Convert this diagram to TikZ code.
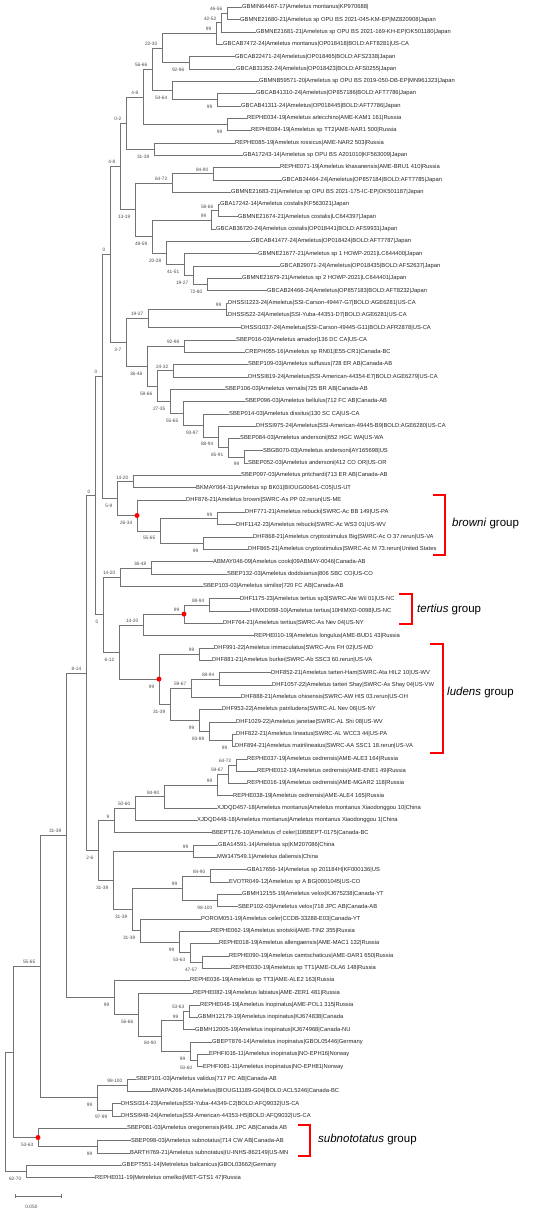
\documentclass[tikz,border=0pt]{standalone}
\usepackage{fontspec}
\setmainfont{Liberation Sans}
\usetikzlibrary{calc}

\tikzset{
  branch/.style={line width=0.6pt, draw=black!55},
  leaf/.style={anchor=west, inner sep=0.5pt, font=\fontsize{5.8}{6}\selectfont, text=black!85},
  bsa/.style={anchor=base east, inner sep=0pt, xshift=-4.5pt, yshift=2.5pt, font=\fontsize{4.8}{5}\selectfont, text=black!70},
  bsb/.style={anchor=base east, inner sep=0pt, xshift=-4.5pt, yshift=-9pt, font=\fontsize{4.8}{5}\selectfont, text=black!70},
  bracket/.style={line width=1.6pt, draw=red},
  grp/.style={anchor=west, inner sep=0pt, font=\fontsize{11.5}{12}\selectfont, text=black},
  reddot/.style={fill=red, draw=none}
}

\begin{document}
\begin{tikzpicture}[x=1pt, y=-1pt]
      \useasboundingbox (0,0) rectangle (550,1215);

      % leaves
      \node[leaf] (l1) at (241.5,7.3) {GBMIN64467-17|Ameletus montanus|KP970688|};
      \node[leaf] (l2) at (239.5,19.6) {GBMNE21680-21|Ameletus sp OPU BS 2021-045-KM-EP|MZ820908|Japan};
      \node[leaf] (l3) at (255.5,31.9) {GBMNE21681-21|Ameletus sp OPU BS 2021-169-KH-EP|OK501180|Japan};
      \node[leaf] (l4) at (222.5,44.3) {GBCAB7472-24|Ameletus montanus|OP018418|BOLD:AFT8281|US-CA};
      \node[leaf] (l5) at (234.5,56.6) {GBCAB22471-24|Ameletus|OP018465|BOLD:AFS2338|Japan};
      \node[leaf] (l6) at (235.5,68.9) {GBCAB31352-24|Ameletus|OP018423|BOLD:AFS0255|Japan};
      \node[leaf] (l7) at (258.5,81.2) {GBMNB59571-20|Ameletus sp OPU BS 2019-050-DB-EP|MN961323|Japan};
      \node[leaf] (l8) at (255.5,93.5) {GBCAB41310-24|Ameletus|OP857186|BOLD:AFT7786|Japan};
      \node[leaf] (l9) at (240.5,105.9) {GBCAB41311-24|Ameletus|OP018445|BOLD:AFT7786|Japan};
      \node[leaf] (l10) at (246.5,118.2) {REPHE034-19|Ameletus arlecchino|AME-KAM1 161|Russia};
      \node[leaf] (l11) at (250.5,130.5) {REPHE084-19|Ameletus sp TT2|AME-NAR1 500|Russia};
      \node[leaf] (l12) at (234.5,142.8) {REPHE085-19|Ameletus rossicus|AME-NAR2 503|Russia};
      \node[leaf] (l13) at (242.5,155.1) {GBA17243-14|Ameletus sp OPU BS A201010|KF563009|Japan};
      \node[leaf] (l14) at (279.5,167.5) {REPHE071-19|Ameletus khasanensis|AME-BRU1 410|Russia};
      \node[leaf] (l15) at (281.5,179.8) {GBCAB24464-24|Ameletus|OP857184|BOLD:AFT7785|Japan};
      \node[leaf] (l16) at (230.5,192.1) {GBMNE21683-21|Ameletus sp OPU BS 2021-175-IC-EP|OK501187|Japan};
      \node[leaf] (l17) at (219.5,204.4) {GBA17242-14|Ameletus costalis|KF563021|Japan};
      \node[leaf] (l18) at (237.5,216.7) {GBMNE21674-21|Ameletus costalis|LC644397|Japan};
      \node[leaf] (l19) at (215.5,229.0) {GBCAB36720-24|Ameletus costalis|OP018441|BOLD:AFS9931|Japan};
      \node[leaf] (l20) at (250.5,241.4) {GBCAB41477-24|Ameletus|OP018424|BOLD:AFT7787|Japan};
      \node[leaf] (l21) at (257.5,253.7) {GBMNE21677-21|Ameletus sp 1 HOWP-2021|LC644400|Japan};
      \node[leaf] (l22) at (279.5,266.0) {GBCAB29071-24|Ameletus|OP018435|BOLD:AFS2637|Japan};
      \node[leaf] (l23) at (241.5,278.3) {GBMNE21679-21|Ameletus sp 2 HOWP-2021|LC644401|Japan};
      \node[leaf] (l24) at (266.5,290.6) {GBCAB24466-24|Ameletus|OP857183|BOLD:AFT8232|Japan};
      \node[leaf] (l25) at (227.5,302.9) {DHSSI1223-24|Ameletus|SSI-Carson-49447-G7|BOLD:AGE6281|US-CA};
      \node[leaf] (l26) at (227.5,315.3) {DHSSI522-24|Ameletus|SSI-Yuba-44351-D7|BOLD:AGE6281|US-CA};
      \node[leaf] (l27) at (240.5,327.6) {DHSSI1037-24|Ameletus|SSI-Carson-49445-G11|BOLD:AFR2878|US-CA};
      \node[leaf] (l28) at (235.5,339.9) {SBEP016-03|Ameletus amador|136 DC CA|US-CA};
      \node[leaf] (l29) at (244.5,352.2) {CREPH055-16|Ameletus sp RN01|E55-CR1|Canada-BC};
      \node[leaf] (l30) at (247.5,364.5) {SBEP109-03|Ameletus suffusus|728 ER AB|Canada-AB};
      \node[leaf] (l31) at (247.5,376.8) {DHSSI819-24|Ameletus|SSI-American-44354-E7|BOLD:AGE6279|US-CA};
      \node[leaf] (l32) at (224.5,389.2) {SBEP106-03|Ameletus vernalis|725 BR AB|Canada-AB};
      \node[leaf] (l33) at (244.5,401.5) {SBEP096-03|Ameletus bellulus|712 FC AB|Canada-AB};
      \node[leaf] (l34) at (228.5,413.8) {SBEP014-03|Ameletus dissitus|130 SC CA|US-CA};
      \node[leaf] (l35) at (255.5,426.1) {DHSSI975-24|Ameletus|SSI-American-49445-B9|BOLD:AGE6280|US-CA};
      \node[leaf] (l36) at (239.5,438.4) {SBEP084-03|Ameletus andersoni|652 HGC WA|US-WA};
      \node[leaf] (l37) at (262.5,450.7) {SBGB070-03|Ameletus andersoni|AY165698|US};
      \node[leaf] (l38) at (247.5,463.1) {SBEP052-03|Ameletus andersoni|412 CO OR|US-OR};
      \node[leaf] (l39) at (240.5,475.4) {SBEP097-03|Ameletus pritchardi|713 ER AB|Canada-AB};
      \node[leaf] (l40) at (195.5,487.7) {BKMAY064-11|Ameletus sp BK01|BIOUG00641-C05|US-UT};
      \node[leaf] (l41) at (185.5,500.1) {DHF876-21|Ameletus browni|SWRC-As PP 02.rerun|US-ME};
      \node[leaf] (l42) at (244.5,512.4) {DHF771-21|Ameletus rebucki|SWRC-Ac BB 149|US-PA};
      \node[leaf] (l43) at (235.5,524.7) {DHF1142-23|Ameletus rebucki|SWRC-Ac WS3 01|US-WV};
      \node[leaf] (l44) at (252.5,537.0) {DHF868-21|Ameletus cryptostimulus Big|SWRC-Ac O 37.rerun|US-VA};
      \node[leaf] (l45) at (247.5,549.4) {DHF865-21|Ameletus cryptostimulus|SWRC-Ac M 73.rerun|United States};
      \node[leaf] (l46) at (212.5,561.7) {ABMAY046-09|Ameletus cooki|09ABMAY-0046|Canada-AB};
      \node[leaf] (l47) at (226.5,574.0) {SBEP132-03|Ameletus doddsianus|806 SBC CO|US-CO};
      \node[leaf] (l48) at (202.5,586.3) {SBEP103-03|Ameletus similior|720 FC AB|Canada-AB};
      \node[leaf] (l49) at (239.5,598.7) {DHF1175-23|Ameletus tertius sp3|SWRC-Ate Wil 01|US-NC};
      \node[leaf] (l50) at (249.5,611.0) {HIMXD098-10|Ameletus tertius|10HIMXD-0098|US-NC};
      \node[leaf] (l51) at (222.5,623.3) {DHF764-21|Ameletus tertius|SWRC-As Nev 04|US-NY};
      \node[leaf] (l52) at (253.5,635.6) {REPHE010-19|Ameletus longulus|AME-BUD1 43|Russia};
      \node[leaf] (l53) at (213.5,647.9) {DHF991-22|Ameletus immaculatus|SWRC-Ans FH 02|US-MD};
      \node[leaf] (l54) at (211.5,660.3) {DHF881-21|Ameletus burkei|SWRC-Ab SSC3 60.rerun|US-VA};
      \node[leaf] (l55) at (270.5,672.6) {DHF852-21|Ameletus tarteri-Ham|SWRC-Ata HIL2 10|US-WV};
      \node[leaf] (l56) at (271.5,684.9) {DHF1057-22|Ameletus tarteri Shay|SWRC-As Shay 04|US-VW};
      \node[leaf] (l57) at (240.5,697.2) {DHF888-21|Ameletus ohioensis|SWRC-AW HIS 03.rerun|US-OH};
      \node[leaf] (l58) at (221.5,709.5) {DHF953-22|Ameletus patriludens|SWRC-AL Nev 06|US-NY};
      \node[leaf] (l59) at (235.5,721.8) {DHF1029-22|Ameletus janetae|SWRC-AL Shi 08|US-WV};
      \node[leaf] (l60) at (235.5,734.2) {DHF822-21|Ameletus lineatus|SWRC-AL WCC3 44|US-PA};
      \node[leaf] (l61) at (234.5,746.5) {DHF894-21|Ameletus matrilineatus|SWRC-AA SSC1 18.rerun|US-VA};
      \node[leaf] (l62) at (246.5,758.8) {REPHE037-19|Ameletus cedrensis|AME-ALE3 164|Russia};
      \node[leaf] (l63) at (256.5,771.1) {REPHE012-19|Ameletus cedrensis|AME-ENE1 49|Russia};
      \node[leaf] (l64) at (246.5,783.4) {REPHE016-19|Ameletus cedrensis|AME-MGAR2 118|Russia};
      \node[leaf] (l65) at (232.5,795.7) {REPHE038-19|Ameletus cedrensis|AME-ALE4 165|Russia};
      \node[leaf] (l66) at (216.5,808.0) {XJDQD457-18|Ameletus montanus|Ameletus montanus Xiaodonggou 10|China};
      \node[leaf] (l67) at (196.5,820.3) {XJDQD448-18|Ameletus montanus|Ameletus montanus Xiaodonggou 1|China};
      \node[leaf] (l68) at (211.5,832.7) {BBEPT176-10|Ameletus cf celer|10BBEPT-0175|Canada-BC};
      \node[leaf] (l69) at (217.5,845.0) {GBA14591-14|Ameletus sp|KM207086|China};
      \node[leaf] (l70) at (216.5,857.3) {MW147549.1|Ameletus daliensis|China};
      \node[leaf] (l71) at (246.5,869.6) {GBA17656-14|Ameletus sp 201184H|KF000136|US};
      \node[leaf] (l72) at (228.5,881.9) {EVOTR049-12|Ameletus sp A BG|0001045|US-CO};
      \node[leaf] (l73) at (241.5,894.2) {GBMH12155-19|Ameletus velox|KJ675238|Canada-YT};
      \node[leaf] (l74) at (237.5,906.6) {SBEP102-03|Ameletus velox|718 JPC AB|Canada-AB};
      \node[leaf] (l75) at (200.5,918.9) {POROM051-19|Ameletus celer|CCDB-33288-E03|Canada-YT};
      \node[leaf] (l76) at (210.5,931.2) {REPHE062-19|Ameletus sirotskii|AME-TIN2 355|Russia};
      \node[leaf] (l77) at (218.5,943.5) {REPHE018-19|Ameletus allengaensis|AME-MAC1 132|Russia};
      \node[leaf] (l78) at (228.5,955.8) {REPHE090-19|Ameletus camtschaticus|AME-DAR1 650|Russia};
      \node[leaf] (l79) at (230.5,968.1) {REPHE030-19|Ameletus sp TT1|AME-OLA6 148|Russia};
      \node[leaf] (l80) at (189.5,980.5) {REPHE036-19|Ameletus sp TT3|AME-ALE2 163|Russia};
      \node[leaf] (l81) at (192.5,992.8) {REPHE082-19|Ameletus labiatus|AME-ZER1 481|Russia};
      \node[leaf] (l82) at (199.5,1005.1) {REPHE048-19|Ameletus inopinatus|AME-POL1 315|Russia};
      \node[leaf] (l83) at (197.5,1017.4) {GBMH12179-19|Ameletus inopinatus|KJ674838|Canada};
      \node[leaf] (l84) at (194.5,1029.7) {GBMH12005-19|Ameletus inopinatus|KJ674968|Canada-NU};
      \node[leaf] (l85) at (211.5,1042.0) {GBEPT876-14|Ameletus inopinatus|GBOL05446|Germany};
      \node[leaf] (l86) at (208.5,1054.4) {EPHFI016-11|Ameletus inopinatus|NO-EPH16|Norway};
      \node[leaf] (l87) at (202.5,1066.7) {EPHFI081-11|Ameletus inopinatus|NO-EPH81|Norway};
      \node[leaf] (l88) at (135.5,1079.0) {SBEP101-03|Ameletus validus|717 PC AB|Canada-AB};
      \node[leaf] (l89) at (151.5,1091.3) {BMAPA266-14|Ameletus|BIOUG11189-G04|BOLD:ACL5246|Canada-BC};
      \node[leaf] (l90) at (120.5,1103.6) {DHSSI314-23|Ameletus|SSI-Yuba-44349-C2|BOLD:AFQ9032|US-CA};
      \node[leaf] (l91) at (120.5,1115.9) {DHSSI948-24|Ameletus|SSI-American-44353-H5|BOLD:AFQ9032|US-CA};
      \node[leaf] (l92) at (126.5,1128.2) {SBEP081-03|Ameletus oregonensis|649L JPC AB|Canada AB};
      \node[leaf] (l93) at (130.5,1140.6) {SBEP098-03|Ameletus subnotatus|714 CW AB|Canada-AB};
      \node[leaf] (l94) at (129.5,1152.9) {BARTH769-21|Ameletus subnotatus|IU-INHS-862149|US-MN};
      \node[leaf] (l95) at (121.5,1165.2) {GBEPT551-14|Metreletus balcanicus|GBOL03662|Germany};
      \node[leaf] (l96) at (94.5,1177.5) {REPHE011-19|Metreletus omelkoi|MET-GTS1 47|Russia};

      % inner nodes
      \coordinate (n46_56) at (227,13.5);
      \coordinate (n42_52) at (221,22.7);
      \coordinate (n99a) at (216,33.5);
      \coordinate (n92_96) at (189,62.8);
      \coordinate (n22_30) at (162,48.1);
      \coordinate (n99b) at (217,99.7);
      \coordinate (n54_64) at (172,90.5);
      \coordinate (n56_66a) at (152,69.3);
      \coordinate (n99f) at (227,124.3);
      \coordinate (n4_8a) at (143,96.8);
      \coordinate (n31_39a) at (154,149.0);
      \coordinate (n0_2) at (126,122.9);
      \coordinate (n84_90a) at (213,173.6);
      \coordinate (n64_72a) at (172,182.9);
      \coordinate (n58_66a) at (218,210.6);
      \coordinate (n99g) at (211,219.8);
      \coordinate (n72_80) at (207,284.5);
      \coordinate (n19_27a) at (193,275.3);
      \coordinate (n41_51) at (184,264.5);
      \coordinate (n20_28) at (166,253.0);
      \coordinate (n49_59) at (152,236.4);
      \coordinate (n13_19) at (135,209.7);
      \coordinate (n4_8b) at (120,166.3);
      \coordinate (n99h) at (226,309.1);
      \coordinate (n19_27b) at (148,318.4);
      \coordinate (n92_98) at (184,346.1);
      \coordinate (n24_32) at (173,370.7);
      \coordinate (n99i) at (244,456.9);
      \coordinate (n85_91) at (228,447.7);
      \coordinate (n88_94a) at (218,436.9);
      \coordinate (n93_97) at (203,425.4);
      \coordinate (n55_65a) at (183,413.4);
      \coordinate (n27_35) at (170,401.3);
      \coordinate (n58_66b) at (157,386.0);
      \coordinate (n36_46) at (147,366.0);
      \coordinate (n3_7) at (126,342.2);
      \coordinate (n0a) at (110,254.3);
      \coordinate (n14_20a) at (133,481.5);
      \coordinate (n99c) at (217,518.6);
      \coordinate (n99d) at (203,543.2);
      \coordinate (n55_65b) at (160,530.9);
      \coordinate (nbrowni) at (137,515.5);
      \coordinate (n5_9) at (117,498.5);
      \coordinate (n0b) at (102,376.4);
      \coordinate (n36_48) at (151,567.9);
      \coordinate (n14_20b) at (120,577.1);
      \coordinate (n88_94b) at (209,604.8);
      \coordinate (ntertius) at (184,614.1);
      \coordinate (n14_20c) at (143,624.9);
      \coordinate (n99e) at (199,654.1);
      \coordinate (n88_94c) at (219,678.8);
      \coordinate (n59_67a) at (191,688.0);
      \coordinate (nW) at (232,740.3);
      \coordinate (nZ) at (209,731.1);
      \coordinate (nY) at (199,720.3);
      \coordinate (nX) at (170,704.2);
      \coordinate (nludens) at (159,679.1);
      \coordinate (n6_12) at (119,652.0);
      \coordinate (n0d) at (103,614.6);
      \coordinate (n0c) at (95,495.5);
      \coordinate (n64_72b) at (236,765.0);
      \coordinate (n59_67b) at (228,774.2);
      \coordinate (n99j) at (217,785.0);
      \coordinate (n84_90b) at (164,796.5);
      \coordinate (n50_60a) at (135,808.4);
      \coordinate (n9) at (114,820.6);
      \coordinate (n99k) at (193,851.2);
      \coordinate (n84_90c) at (210,875.8);
      \coordinate (n98_100a) at (217,900.4);
      \coordinate (n99l) at (182,888.1);
      \coordinate (n47_57) at (202,962.0);
      \coordinate (n53_63a) at (190,952.7);
      \coordinate (n99m) at (179,942.0);
      \coordinate (n31_39e) at (140,930.4);
      \coordinate (n31_39c) at (132,909.3);
      \coordinate (n31_39d) at (113,880.2);
      \coordinate (n2_6) at (98,850.4);
      \coordinate (n8_14) at (86,673.0);
      \coordinate (n53_63b) at (189,1011.3);
      \coordinate (n99n) at (183,1020.5);
      \coordinate (n50_60b) at (197,1060.6);
      \coordinate (n99o) at (190,1051.3);
      \coordinate (n84_90d) at (161,1035.9);
      \coordinate (n56_66b) at (138,1014.4);
      \coordinate (n99q) at (114,997.4);
      \coordinate (n31_39b) at (66,835.2);
      \coordinate (n98_100b) at (127,1085.2);
      \coordinate (n97_99) at (112,1109.8);
      \coordinate (n99r) at (97,1097.5);
      \coordinate (n55_65c) at (40,966.4);
      \coordinate (n99p) at (97,1146.7);
      \coordinate (nsubnot) at (38,1137.5);
      \coordinate (nin) at (13,1052.0);
      \coordinate (n62_70) at (26,1171.4);
      \coordinate (nroot) at (5,1111.7);

      % branches
      \draw[branch] (n46_56) |- (l1.west) (n46_56) |- (l2.west);
      \draw[branch] (n42_52) |- (n46_56) (n42_52) |- (l3.west);
      \draw[branch] (n99a) |- (n42_52) (n99a) |- (l4.west);
      \draw[branch] (n92_96) |- (l5.west) (n92_96) |- (l6.west);
      \draw[branch] (n22_30) |- (n99a) (n22_30) |- (n92_96);
      \draw[branch] (n99b) |- (l8.west) (n99b) |- (l9.west);
      \draw[branch] (n54_64) |- (l7.west) (n54_64) |- (n99b);
      \draw[branch] (n56_66a) |- (n22_30) (n56_66a) |- (n54_64);
      \draw[branch] (n99f) |- (l10.west) (n99f) |- (l11.west);
      \draw[branch] (n4_8a) |- (n56_66a) (n4_8a) |- (n99f);
      \draw[branch] (n31_39a) |- (l12.west) (n31_39a) |- (l13.west);
      \draw[branch] (n0_2) |- (n4_8a) (n0_2) |- (n31_39a);
      \draw[branch] (n84_90a) |- (l14.west) (n84_90a) |- (l15.west);
      \draw[branch] (n64_72a) |- (n84_90a) (n64_72a) |- (l16.west);
      \draw[branch] (n58_66a) |- (l17.west) (n58_66a) |- (l18.west);
      \draw[branch] (n99g) |- (n58_66a) (n99g) |- (l19.west);
      \draw[branch] (n72_80) |- (l23.west) (n72_80) |- (l24.west);
      \draw[branch] (n19_27a) |- (l22.west) (n19_27a) |- (n72_80);
      \draw[branch] (n41_51) |- (l21.west) (n41_51) |- (n19_27a);
      \draw[branch] (n20_28) |- (l20.west) (n20_28) |- (n41_51);
      \draw[branch] (n49_59) |- (n99g) (n49_59) |- (n20_28);
      \draw[branch] (n13_19) |- (n64_72a) (n13_19) |- (n49_59);
      \draw[branch] (n4_8b) |- (n0_2) (n4_8b) |- (n13_19);
      \draw[branch] (n99h) |- (l25.west) (n99h) |- (l26.west);
      \draw[branch] (n19_27b) |- (n99h) (n19_27b) |- (l27.west);
      \draw[branch] (n92_98) |- (l28.west) (n92_98) |- (l29.west);
      \draw[branch] (n24_32) |- (l30.west) (n24_32) |- (l31.west);
      \draw[branch] (n99i) |- (l37.west) (n99i) |- (l38.west);
      \draw[branch] (n85_91) |- (l36.west) (n85_91) |- (n99i);
      \draw[branch] (n88_94a) |- (l35.west) (n88_94a) |- (n85_91);
      \draw[branch] (n93_97) |- (l34.west) (n93_97) |- (n88_94a);
      \draw[branch] (n55_65a) |- (l33.west) (n55_65a) |- (n93_97);
      \draw[branch] (n27_35) |- (l32.west) (n27_35) |- (n55_65a);
      \draw[branch] (n58_66b) |- (n24_32) (n58_66b) |- (n27_35);
      \draw[branch] (n36_46) |- (n92_98) (n36_46) |- (n58_66b);
      \draw[branch] (n3_7) |- (n19_27b) (n3_7) |- (n36_46);
      \draw[branch] (n0a) |- (n4_8b) (n0a) |- (n3_7);
      \draw[branch] (n14_20a) |- (l39.west) (n14_20a) |- (l40.west);
      \draw[branch] (n99c) |- (l42.west) (n99c) |- (l43.west);
      \draw[branch] (n99d) |- (l44.west) (n99d) |- (l45.west);
      \draw[branch] (n55_65b) |- (n99c) (n55_65b) |- (n99d);
      \draw[branch] (nbrowni) |- (l41.west) (nbrowni) |- (n55_65b);
      \draw[branch] (n5_9) |- (n14_20a) (n5_9) |- (nbrowni);
      \draw[branch] (n0b) |- (n0a) (n0b) |- (n5_9);
      \draw[branch] (n36_48) |- (l46.west) (n36_48) |- (l47.west);
      \draw[branch] (n14_20b) |- (n36_48) (n14_20b) |- (l48.west);
      \draw[branch] (n88_94b) |- (l49.west) (n88_94b) |- (l50.west);
      \draw[branch] (ntertius) |- (n88_94b) (ntertius) |- (l51.west);
      \draw[branch] (n14_20c) |- (ntertius) (n14_20c) |- (l52.west);
      \draw[branch] (n99e) |- (l53.west) (n99e) |- (l54.west);
      \draw[branch] (n88_94c) |- (l55.west) (n88_94c) |- (l56.west);
      \draw[branch] (n59_67a) |- (n88_94c) (n59_67a) |- (l57.west);
      \draw[branch] (nW) |- (l60.west) (nW) |- (l61.west);
      \draw[branch] (nZ) |- (l59.west) (nZ) |- (nW);
      \draw[branch] (nY) |- (l58.west) (nY) |- (nZ);
      \draw[branch] (nX) |- (n59_67a) (nX) |- (nY);
      \draw[branch] (nludens) |- (n99e) (nludens) |- (nX);
      \draw[branch] (n6_12) |- (n14_20c) (n6_12) |- (nludens);
      \draw[branch] (n0d) |- (n14_20b) (n0d) |- (n6_12);
      \draw[branch] (n0c) |- (n0b) (n0c) |- (n0d);
      \draw[branch] (n64_72b) |- (l62.west) (n64_72b) |- (l63.west);
      \draw[branch] (n59_67b) |- (n64_72b) (n59_67b) |- (l64.west);
      \draw[branch] (n99j) |- (n59_67b) (n99j) |- (l65.west);
      \draw[branch] (n84_90b) |- (n99j) (n84_90b) |- (l66.west);
      \draw[branch] (n50_60a) |- (n84_90b) (n50_60a) |- (l67.west);
      \draw[branch] (n9) |- (n50_60a) (n9) |- (l68.west);
      \draw[branch] (n99k) |- (l69.west) (n99k) |- (l70.west);
      \draw[branch] (n84_90c) |- (l71.west) (n84_90c) |- (l72.west);
      \draw[branch] (n98_100a) |- (l73.west) (n98_100a) |- (l74.west);
      \draw[branch] (n99l) |- (n84_90c) (n99l) |- (n98_100a);
      \draw[branch] (n47_57) |- (l78.west) (n47_57) |- (l79.west);
      \draw[branch] (n53_63a) |- (l77.west) (n53_63a) |- (n47_57);
      \draw[branch] (n99m) |- (l76.west) (n99m) |- (n53_63a);
      \draw[branch] (n31_39e) |- (l75.west) (n31_39e) |- (n99m);
      \draw[branch] (n31_39c) |- (n99l) (n31_39c) |- (n31_39e);
      \draw[branch] (n31_39d) |- (n99k) (n31_39d) |- (n31_39c);
      \draw[branch] (n2_6) |- (n9) (n2_6) |- (n31_39d);
      \draw[branch] (n8_14) |- (n0c) (n8_14) |- (n2_6);
      \draw[branch] (n53_63b) |- (l82.west) (n53_63b) |- (l83.west);
      \draw[branch] (n99n) |- (n53_63b) (n99n) |- (l84.west);
      \draw[branch] (n50_60b) |- (l86.west) (n50_60b) |- (l87.west);
      \draw[branch] (n99o) |- (l85.west) (n99o) |- (n50_60b);
      \draw[branch] (n84_90d) |- (n99n) (n84_90d) |- (n99o);
      \draw[branch] (n56_66b) |- (l81.west) (n56_66b) |- (n84_90d);
      \draw[branch] (n99q) |- (l80.west) (n99q) |- (n56_66b);
      \draw[branch] (n31_39b) |- (n8_14) (n31_39b) |- (n99q);
      \draw[branch] (n98_100b) |- (l88.west) (n98_100b) |- (l89.west);
      \draw[branch] (n97_99) |- (l90.west) (n97_99) |- (l91.west);
      \draw[branch] (n99r) |- (n98_100b) (n99r) |- (n97_99);
      \draw[branch] (n55_65c) |- (n31_39b) (n55_65c) |- (n99r);
      \draw[branch] (n99p) |- (l93.west) (n99p) |- (l94.west);
      \draw[branch] (nsubnot) |- (l92.west) (nsubnot) |- (n99p);
      \draw[branch] (nin) |- (n55_65c) (nin) |- (nsubnot);
      \draw[branch] (n62_70) |- (l95.west) (n62_70) |- (l96.west);
      \draw[branch] (nroot) |- (nin) (nroot) |- (n62_70);

      % support values
      \node[bsa] (s46_56) at (n46_56) {46-56};
      \node[bsa] (s42_52) at (n42_52) {42-52};
      \node[bsa] (s99a) at (n99a) {99};
      \node[bsb] (s92_96) at (n92_96) {92-96};
      \node[bsa] (s22_30) at (n22_30) {22-30};
      \node[bsb] (s99b) at (n99b) {99};
      \node[bsb] (s54_64) at (n54_64) {54-64};
      \node[bsa] (s56_66a) at (n56_66a) {56-66};
      \node[bsb] (s99f) at (n99f) {99};
      \node[bsa] (s4_8a) at (n4_8a) {4-8};
      \node[bsb] (s31_39a) at (n31_39a) {31-39};
      \node[bsa] (s0_2) at (n0_2) {0-2};
      \node[bsa] (s84_90a) at (n84_90a) {84-90};
      \node[bsa] (s64_72a) at (n64_72a) {64-72};
      \node[bsa] (s58_66a) at (n58_66a) {58-66};
      \node[bsa] (s99g) at (n99g) {99};
      \node[bsb] (s72_80) at (n72_80) {72-80};
      \node[bsb] (s19_27a) at (n19_27a) {19-27};
      \node[bsb] (s41_51) at (n41_51) {41-51};
      \node[bsb] (s20_28) at (n20_28) {20-28};
      \node[bsb] (s49_59) at (n49_59) {49-59};
      \node[bsb] (s13_19) at (n13_19) {13-19};
      \node[bsa] (s4_8b) at (n4_8b) {4-8};
      \node[bsa] (s99h) at (n99h) {99};
      \node[bsa] (s19_27b) at (n19_27b) {19-27};
      \node[bsa] (s92_98) at (n92_98) {92-98};
      \node[bsa] (s24_32) at (n24_32) {24-32};
      \node[bsb] (s99i) at (n99i) {99};
      \node[bsb] (s85_91) at (n85_91) {85-91};
      \node[bsb] (s88_94a) at (n88_94a) {88-94};
      \node[bsb] (s93_97) at (n93_97) {93-97};
      \node[bsb] (s55_65a) at (n55_65a) {55-65};
      \node[bsb] (s27_35) at (n27_35) {27-35};
      \node[bsb] (s58_66b) at (n58_66b) {58-66};
      \node[bsb] (s36_46) at (n36_46) {36-46};
      \node[bsb] (s3_7) at (n3_7) {3-7};
      \node[bsa] (s0a) at (n0a) {0};
      \node[bsa] (s14_20a) at (n14_20a) {14-20};
      \node[bsa] (s99c) at (n99c) {99};
      \node[bsb] (s99d) at (n99d) {99};
      \node[bsb] (s55_65b) at (n55_65b) {55-65};
      \node[bsb] (sbrowni) at (nbrowni) {26-34};
      \node[bsb] (s5_9) at (n5_9) {5-9};
      \node[bsa] (s0b) at (n0b) {0};
      \node[bsa] (s36_48) at (n36_48) {36-48};
      \node[bsa] (s14_20b) at (n14_20b) {14-20};
      \node[bsa] (s88_94b) at (n88_94b) {88-94};
      \node[bsa] (stertius) at (ntertius) {99};
      \node[bsa] (s14_20c) at (n14_20c) {14-20};
      \node[bsa] (s99e) at (n99e) {99};
      \node[bsa] (s88_94c) at (n88_94c) {88-94};
      \node[bsa] (s59_67a) at (n59_67a) {59-67};
      \node[bsb] (sW) at (nW) {99};
      \node[bsb] (sZ) at (nZ) {83-89};
      \node[bsb] (sY) at (nY) {99};
      \node[bsb] (sX) at (nX) {31-39};
      \node[bsb] (sludens) at (nludens) {99};
      \node[bsb] (s6_12) at (n6_12) {6-12};
      \node[bsb] (s0d) at (n0d) {0};
      \node[bsa] (s0c) at (n0c) {0};
      \node[bsa] (s64_72b) at (n64_72b) {64-72};
      \node[bsa] (s59_67b) at (n59_67b) {59-67};
      \node[bsa] (s99j) at (n99j) {99};
      \node[bsa] (s84_90b) at (n84_90b) {84-90};
      \node[bsa] (s50_60a) at (n50_60a) {50-60};
      \node[bsa] (s9) at (n9) {9};
      \node[bsa] (s99k) at (n99k) {99};
      \node[bsa] (s84_90c) at (n84_90c) {84-90};
      \node[bsb] (s98_100a) at (n98_100a) {98-100};
      \node[bsa] (s99l) at (n99l) {99};
      \node[bsb] (s47_57) at (n47_57) {47-57};
      \node[bsb] (s53_63a) at (n53_63a) {53-63};
      \node[bsb] (s99m) at (n99m) {99};
      \node[bsb] (s31_39e) at (n31_39e) {31-39};
      \node[bsb] (s31_39c) at (n31_39c) {31-39};
      \node[bsb] (s31_39d) at (n31_39d) {31-39};
      \node[bsb] (s2_6) at (n2_6) {2-6};
      \node[bsa] (s8_14) at (n8_14) {8-14};
      \node[bsa] (s53_63b) at (n53_63b) {53-63};
      \node[bsa] (s99n) at (n99n) {99};
      \node[bsb] (s50_60b) at (n50_60b) {50-60};
      \node[bsb] (s99o) at (n99o) {99};
      \node[bsb] (s84_90d) at (n84_90d) {84-90};
      \node[bsb] (s56_66b) at (n56_66b) {56-66};
      \node[bsb] (s99q) at (n99q) {99};
      \node[bsa] (s31_39b) at (n31_39b) {31-39};
      \node[bsa] (s98_100b) at (n98_100b) {98-100};
      \node[bsb] (s97_99) at (n97_99) {97-99};
      \node[bsb] (s99r) at (n99r) {99};
      \node[bsa] (s55_65c) at (n55_65c) {55-65};
      \node[bsb] (s99p) at (n99p) {99};
      \node[bsb] (ssubnot) at (nsubnot) {53-63};
      \node[bsb] (s62_70) at (n62_70) {62-70};

      % group dots
      \fill[reddot] (nbrowni) circle (2.5);
      \fill[reddot] (ntertius) circle (2.5);
      \fill[reddot] (nludens) circle (2.5);
      \fill[reddot] (nsubnot) circle (2.5);

      % group brackets
      \coordinate (brA) at (433,495);
      \coordinate (brB) at (445,555);
      \coordinate (teA) at (399,594);
      \coordinate (teB) at (412,624);
      \coordinate (luA) at (430,644);
      \coordinate (luB) at (443,753);
      \coordinate (suA) at (298,1125);
      \coordinate (suB) at (310,1156);
      \draw[bracket] (brA) -| (brB) -- (brA |- brB);
      \draw[bracket] (teA) -| (teB) -- (teA |- teB);
      \draw[bracket] (luA) -| (luB) -- (luA |- luB);
      \draw[bracket] (suA) -| (suB) -- (suA |- suB);
      \node[grp] (gbrowni) at (452,524) {\textit{browni} group};
      \node[grp] (gtertius) at (417,610) {\textit{tertius} group};
      \node[grp] (gludens) at (447,693) {\textit{ludens} group};
      \node[grp] (gsubnot) at (318,1140) {\textit{subnototatus} group};

      % scale bar
      \coordinate (scL) at (15,1196);
      \coordinate (scR) at (61,1196);
      \draw[branch] (scL) -- (scR);
      \draw[branch] ([yshift=2pt]scL) -- ([yshift=-2pt]scL);
      \draw[branch] ([yshift=2pt]scR) -- ([yshift=-2pt]scR);
      \node[bsa, anchor=center, xshift=0pt, yshift=0pt] (scT) at (36,1209) {0.050};
\end{tikzpicture}
\end{document}
